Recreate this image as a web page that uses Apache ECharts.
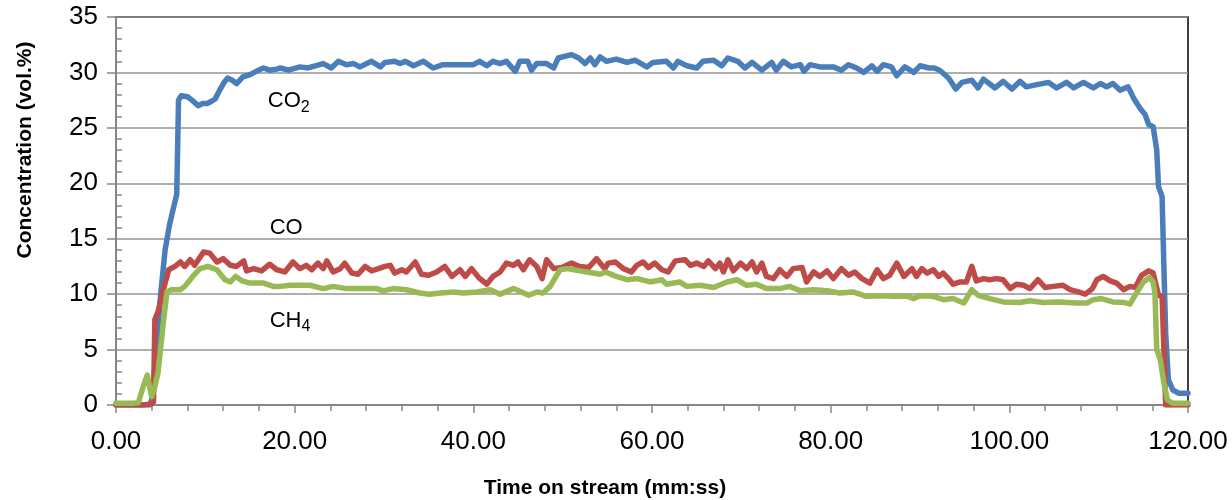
<!DOCTYPE html>
<html>
<head>
<meta charset="utf-8">
<script src="https://cdn.jsdelivr.net/npm/echarts@6/dist/echarts.min.js"></script>
<style>html,body{margin:0;padding:0;background:#fff}#c{width:1232px;height:500px}</style>
</head>
<body>
<div id="c"></div>
<script>
// Time on stream (min) and concentration (vol.%) pairs
var co2 = [[0,0],[1,0],[2,0],[3,0],[3.8,0],[4.1,0.8],[4.5,5],[5,10],[5.5,14],[6,16.3],[6.5,18],[6.8,19],[7.0,27.5],[7.3,27.9],[8,27.8],[8.5,27.5],[9.2,27.0],[9.7,27.2],[10.2,27.2],[10.7,27.4],[11.1,27.6],[11.6,28.4],[12.1,29.1],[12.5,29.5],[13,29.3],[13.5,29.0],[14.2,29.6],[15,29.8],[15.7,30.1],[16.5,30.4],[17.2,30.2],[18,30.3],[18.4,30.4],[19.3,30.2],[20.6,30.5],[21.5,30.4],[22.3,30.6],[23.2,30.8],[24.1,30.4],[24.9,31.0],[25.8,30.7],[26.6,30.8],[27.3,30.5],[28.6,31.0],[29.6,30.5],[30.1,30.9],[31.2,31.0],[31.8,30.8],[32.4,31.0],[33.3,30.6],[34.4,31.0],[35.5,30.4],[36.6,30.7],[37.7,30.7],[38.8,30.7],[40,30.7],[40.7,31.0],[41.5,30.6],[42.2,31.0],[43,30.8],[43.7,31.0],[44.7,30.1],[45.2,31.0],[46.1,31.0],[46.5,30.2],[47.1,30.8],[48.2,30.8],[49,30.4],[49.5,31.3],[51,31.6],[51.8,31.3],[52.5,30.8],[53.1,31.3],[53.6,30.7],[54.2,31.4],[54.9,31.0],[56,31.2],[57.2,30.9],[58.1,31.1],[59.4,30.5],[60.1,30.9],[61.6,31.0],[62.4,30.4],[62.9,31.0],[63.9,30.6],[65,30.4],[65.7,31.0],[66.9,31.1],[67.8,30.6],[68.5,31.3],[69.6,31.0],[70.4,30.4],[71.2,30.9],[72.3,30.2],[73.4,30.9],[73.9,30.2],[74.7,31.0],[75.6,30.5],[76.6,30.7],[77,30.1],[77.7,30.7],[78.8,30.5],[80.3,30.5],[81.2,30.2],[82,30.7],[82.9,30.4],[83.7,30.0],[84.6,30.6],[85.2,30.1],[85.9,30.7],[86.8,30.5],[87.4,29.7],[88.3,30.5],[89.3,30.0],[90,30.6],[91,30.4],[91.6,30.4],[92.2,30.2],[93.2,29.5],[94,28.5],[94.7,29.1],[95.8,29.3],[96.5,28.6],[97.1,29.4],[98.4,28.6],[99.3,29.2],[100.3,28.5],[101.2,29.2],[101.9,28.7],[103.1,28.9],[104.4,29.1],[105.3,28.6],[106.4,29.1],[107.2,28.6],[108.3,29.1],[109.4,28.6],[110.2,29.0],[110.9,28.7],[111.6,29.0],[112.4,28.4],[113.3,28.7],[113.9,27.7],[114.6,26.8],[115.2,26.2],[115.6,25.3],[116.1,25.1],[116.5,23],[116.7,19.7],[117.1,18.8],[117.3,12.5],[117.5,6.5],[117.8,2.3],[118.3,1.35],[119,1.05],[120,1.05]];

var co = [[0,0],[1,0],[2,0],[3,0],[4,0.1],[4.2,0.3],[4.35,7.7],[4.7,8.4],[5.3,10.4],[5.9,12.2],[6.6,12.5],[7.2,12.9],[7.7,12.5],[8.3,13.1],[8.8,12.6],[9.8,13.8],[10.5,13.7],[11.3,12.9],[12,13.2],[12.8,12.6],[13.5,12.5],[14.3,13.0],[14.6,12.1],[15.4,12.3],[16.3,12.1],[17.2,12.7],[18,12.2],[18.9,12.0],[19.8,12.9],[20.6,12.3],[21.3,12.6],[21.9,12.2],[22.6,12.8],[23.2,12.3],[23.6,13.0],[24.3,12.0],[25.1,12.3],[25.6,12.8],[26.4,11.9],[27.1,11.8],[27.9,12.5],[28.6,12.1],[29.4,12.3],[30.1,12.5],[30.7,12.6],[31.2,11.9],[32,12.2],[32.5,12.0],[33.5,12.9],[34.2,11.8],[35,11.7],[35.9,12.0],[36.8,12.5],[37.6,11.6],[38.5,12.2],[39.1,11.6],[39.8,12.3],[40.6,11.5],[41.5,10.9],[42.2,11.6],[43,12.0],[43.7,12.8],[44.5,12.6],[45,12.9],[45.6,12.2],[46.3,13.1],[47.1,12.5],[47.7,11.4],[48.2,13.1],[49,12.3],[49.9,12.4],[51,12.8],[51.9,12.5],[52.9,12.4],[53.8,13.2],[54.7,12.3],[55.1,12.8],[55.9,12.9],[56.8,12.3],[57.7,12.0],[58.3,12.6],[59,12.9],[59.6,12.4],[60.3,12.8],[61.1,12.2],[61.8,12.0],[62.6,13.0],[63.7,13.1],[64.3,12.6],[65,12.8],[65.8,12.5],[66.3,13.0],[67.1,12.3],[67.6,12.8],[68,12.0],[68.5,13.1],[69.1,12.1],[69.9,12.8],[70.6,12.3],[71.2,12.9],[71.7,12.0],[72.3,12.8],[72.8,11.6],[73.6,11.4],[74.3,12.2],[75.1,11.6],[75.8,12.3],[76.8,12.4],[77.3,11.1],[78.1,12.0],[78.8,11.6],[79.6,12.1],[80.3,11.4],[81.2,12.3],[82,11.7],[82.7,12.0],[83.5,11.4],[84.4,11.0],[85.2,12.2],[85.9,11.4],[86.6,11.7],[87.4,12.8],[88.2,11.6],[89.1,12.3],[89.6,11.6],[90.2,12.3],[90.8,11.9],[91.5,12.2],[92.1,11.6],[92.6,11.9],[93.2,11.4],[93.7,10.9],[94.5,11.1],[95.2,11.1],[95.8,12.5],[96.3,11.2],[97.1,11.4],[97.8,11.3],[98.6,11.4],[99.3,11.3],[100.1,10.5],[100.8,10.9],[101.6,10.8],[102.3,10.5],[103.2,11.3],[104,10.6],[104.9,10.7],[106,10.8],[106.8,10.4],[107.7,10.2],[108.5,10.0],[109.3,10.5],[109.8,11.3],[110.5,11.6],[111.3,11.2],[112,11.0],[112.8,10.4],[113.5,10.7],[114.1,10.6],[114.8,11.7],[115.6,12.1],[116.1,11.9],[116.7,9.9],[117.1,9.8],[117.3,5],[117.5,0],[118,0],[119,0],[120,0]];

var ch4 = [[0,0.15],[1,0.15],[2,0.15],[2.5,0.2],[3.1,1.8],[3.5,2.7],[3.8,1.5],[4.0,0.75],[4.3,1.5],[4.7,2.9],[5.3,7.4],[5.7,10.2],[6.2,10.4],[7.2,10.4],[7.7,10.7],[8.7,11.7],[9.4,12.3],[10.3,12.5],[11.3,12.2],[12.2,11.3],[12.8,11.1],[13.4,11.6],[14.1,11.2],[15,11.0],[16.5,11.0],[17.6,10.7],[18.4,10.7],[19.5,10.8],[20.6,10.8],[21.7,10.8],[23.2,10.5],[24.3,10.7],[25.8,10.5],[27.6,10.5],[29.2,10.5],[29.9,10.3],[31,10.5],[32.5,10.4],[34,10.1],[35.1,10.0],[36.3,10.1],[37.8,10.2],[38.9,10.1],[40.4,10.2],[41.9,10.4],[43,10.0],[44.5,10.5],[46.2,9.9],[47.1,10.2],[47.8,10.1],[48.6,10.7],[49.7,12.2],[50.5,12.3],[51.9,12.1],[53.4,11.9],[54.2,11.8],[54.8,12.0],[56,11.6],[57.2,11.3],[58.3,11.4],[59.8,11.1],[61.1,11.3],[61.6,10.9],[63.1,11.1],[63.9,10.7],[65.4,10.8],[66.9,10.6],[68.4,11.1],[69.5,11.3],[70.6,10.8],[71.7,10.9],[72.8,10.5],[74.3,10.5],[75.4,10.7],[76.6,10.3],[78.1,10.4],[79.6,10.3],[81,10.1],[82.5,10.2],[84,9.8],[85.9,9.85],[87,9.8],[88.6,9.8],[89.3,9.6],[90,9.85],[91.5,9.8],[92.6,9.5],[93.7,9.6],[94.9,9.2],[95.8,10.4],[96.5,9.9],[97.8,9.6],[99.3,9.3],[101.2,9.25],[102.3,9.4],[103.8,9.25],[105.6,9.3],[107.5,9.2],[108.7,9.2],[109.4,9.5],[110.3,9.6],[111.6,9.3],[112.8,9.25],[113.5,9.1],[114.3,10.2],[115,11.1],[115.7,11.5],[116.1,11.1],[116.3,10.1],[116.5,5],[116.9,4.1],[117.3,2.0],[117.7,0.45],[118.3,0.15],[119,0.15],[120,0.15]];

var seriesNames = ['CO2', 'CO', 'CH4'];
var seriesColors = ['#4A7EBB', '#BE4B48', '#98B954'];
// label anchor positions in data coordinates [time, conc]
var labelAnchors = [[17.0, 27.4], [17.2, 16.0], [17.2, 7.6]];
var labelTexts = ['{a|CO}{b|2}', '{a|CO}', '{a|CH}{b|4}'];

var FONT = '"Liberation Sans", Arial, sans-serif';
var chart = echarts.init(document.getElementById('c'));
var datasets = [co2, co, ch4];

var option = {
  animation: false,
  backgroundColor: '#fff',
  grid: { left: 116, right: 44, top: 17, bottom: 95, show: true, borderColor: '#000', borderWidth: 1.5, backgroundColor: 'transparent' },
  xAxis: {
    type: 'value', min: 0, max: 120, interval: 20,
    axisLine: { show: true, onZero: false, lineStyle: { color: '#868686', width: 2 } },
    axisTick: { show: true, length: 8, lineStyle: { color: '#868686', width: 1.5 } },
    minorTick: { show: true, splitNumber: 5, length: 6, lineStyle: { color: '#868686', width: 1.5 } },
    splitLine: { show: false },
    axisLabel: { fontFamily: FONT, fontSize: 26, color: '#000', margin: 24, formatter: function (v) { return v.toFixed(2); } }
  },
  yAxis: [{
    type: 'value', min: 0, max: 35, interval: 5,
    axisLine: { show: true, lineStyle: { color: '#868686', width: 2 } },
    axisTick: { show: true, length: 9, lineStyle: { color: '#868686', width: 1.5 } },
    splitLine: { show: true, lineStyle: { color: '#959595', width: 1.5 } },
    axisLabel: { fontFamily: FONT, fontSize: 26, color: '#000', margin: 18 }
  }, {
    type: 'value', min: 0, max: 35, interval: 5, position: 'left',
    axisLine: { show: false },
    axisTick: { show: false, inside: true },
    minorTick: { show: true, splitNumber: 5, length: 6, lineStyle: { color: '#868686', width: 1.5 } },
    splitLine: { show: false },
    axisLabel: { show: false }
  }],
  series: datasets.map(function (d, i) {
    return {
      name: seriesNames[i], type: 'line', data: d, showSymbol: false, symbol: 'none',
      lineStyle: { color: seriesColors[i], width: 5.5, join: 'round', cap: 'round' },
      z: 2 + i
    };
  })
};
chart.setOption(option);

var graphics = [];
labelAnchors.forEach(function (a, i) {
  var p = chart.convertToPixel({ gridIndex: 0 }, a);
  graphics.push({
    type: 'text', x: p[0], y: p[1], z: 100,
    style: {
      text: labelTexts[i], align: 'left', verticalAlign: 'middle', fill: '#000',
      rich: {
        a: { fontFamily: FONT, fontSize: 22, lineHeight: 28, fill: '#000' },
        b: { fontFamily: FONT, fontSize: 16, lineHeight: 14, verticalAlign: 'bottom', fill: '#000' }
      }
    }
  });
});
graphics.push({
  type: 'text', x: 605, y: 488, z: 100,
  style: { text: 'Time on stream (mm:ss)', align: 'center', verticalAlign: 'middle', fontFamily: FONT, fontWeight: 'bold', fontSize: 21, fill: '#000' }
});
graphics.push({
  type: 'text', x: 25, y: 150, rotation: Math.PI / 2, z: 100,
  style: { text: 'Concentration (vol.%)', align: 'center', verticalAlign: 'middle', fontFamily: FONT, fontWeight: 'bold', fontSize: 21, fill: '#000' }
});
chart.setOption({ graphic: graphics });
</script>
</body>
</html>
